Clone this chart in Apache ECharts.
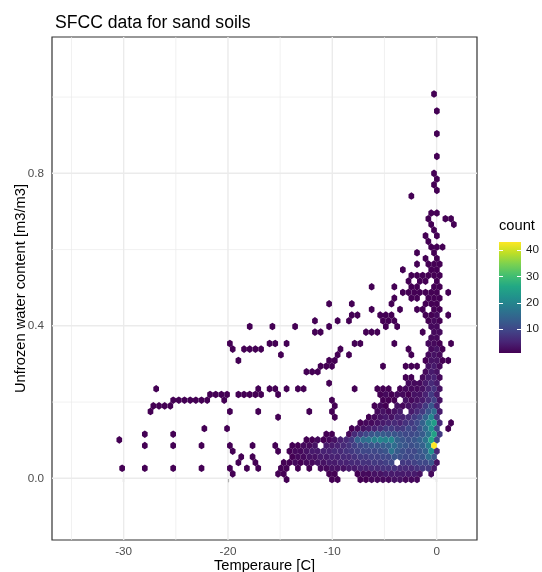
<!DOCTYPE html>
<html>
<head>
<meta charset="utf-8">
<script src="https://cdn.jsdelivr.net/npm/echarts@6/dist/echarts.min.js"></script>
<style>html,body{margin:0;padding:0;background:#fff}#chart{width:542px;height:572px}</style>
</head>
<body>
<div id="chart"></div>
<script>
// ---- data (hex-binned counts) ----
const binT = 0.5436;     // temperature distance between hex centres in a row [C]
const binW = 0.014872;   // water-content distance between hex rows [m3/m3]

const rowWater = [1.0080,0.9634,0.9039,0.8444,0.7998,0.7849,0.7700,0.7552,0.7403,0.6957,0.6808,0.6659,0.6511,0.6362,0.6213,0.6065,0.5916,0.5767,0.5618,0.5470,0.5321,0.5172,0.5024,0.4875,0.4726,0.4577,0.4429,0.4280,0.4131,0.3982,0.3834,0.3685,0.3536,0.3388,0.3239,0.3090,0.2941,0.2793,0.2644,0.2495,0.2347,0.2198,0.2049,0.1900,0.1752,0.1603,0.1454,0.1306,0.1157,0.1008,0.0859,0.0711,0.0562,0.0413,0.0264,0.0116,-0.0033];

const rowFirstTemp = [-0.249,0.023,0.023,0.023,-0.249,0.023,-0.249,0.023,-2.423,-0.521,-0.793,-0.521,-0.249,-1.064,-0.793,-0.521,-1.880,-1.064,-1.880,-3.239,-2.423,-2.695,-6.229,-3.239,-4.054,-10.306,-6.229,-8.131,-11.665,-17.916,-11.665,-0.521,-19.819,-19.547,-14.926,-19.003,-11.121,-12.480,-2.967,-10.306,-26.885,-21.721,-25.255,-27.157,-27.429,-15.198,-7.316,-22.265,-27.973,-30.419,-27.973,-19.547,-18.731,-19.003,-30.147,-19.547,-14.383];

const rowCounts = [
 [1],[1],[1],[1],[1],[1],[1],[1],[1],
 [1,1],
 [1,0,0,1,1],
 [1,0,0,0,1],
 [1],
 [1,0,1],
 [1],
 [1,1,1],
 [1,0,0,1],
 [1,0,1],
 [1,0,1,1,1],
 [1,0,0,0,0,1,1],
 [1,1,1,1,1,1],
 [1,0,1,1,0,1],
 [1,0,0,0,1,0,0,1,1,0,0,1,1],
 [1,1,1,1,1,1,1,0,1],
 [1,0,0,1,1,0,1,1,1],
 [1,0,0,0,1,0,0,0,0,0,0,1,0,0,0,0,0,1,1,1],
 [1,0,0,0,0,1,0,0,1,1,0,1,1],
 [1,1,0,0,0,1,1,1,0,0,0,0,0,1,1,2,0,1],
 [1,0,0,0,1,0,1,0,0,0,0,0,1,1,1,0,0,0,0,0,1,2,1],
 [1,0,0,0,1,0,0,0,1,0,0,0,0,0,1,0,0,0,0,0,0,0,0,0,1,0,1,0,0,0,0,0,2,2],
 [1,1,0,0,0,0,0,0,0,1,1,1,0,0,0,0,0,0,0,1,0,2,2],
 [2,2],
 [1,0,0,0,0,0,0,1,1,0,1,0,0,0,0,0,0,0,0,0,0,0,1,1,0,0,0,0,0,1,0,0,0,0,0,2,2,1,0,1],
 [1,0,1,1,1,1,0,0,0,0,0,0,0,0,0,0,0,0,0,1,0,0,0,0,0,0,0,0,0,0,0,1,0,0,0,2,3,1],
 [1,0,0,0,0,0,0,0,0,0,1,0,1,0,0,0,0,0,0,0,0,0,0,1,0,0,2,3,2],
 [1,0,0,0,0,0,0,0,0,0,0,0,0,0,0,0,1,1,0,0,0,0,0,0,0,0,0,0,0,0,0,0,0,1,3,3,1,1],
 [1,1,1,0,0,0,0,0,0,0,0,1,0,0,0,1,1,1,0,3,4,2],
 [1,1,1,0,0,0,0,0,0,0,0,0,0,0,0,0,0,0,0,0,0,2,4,3],
 [1,1,0,2,4,5,2],
 [1,0,0,0,0,0,0,0,0,0,0,0,0,0,2,2,2,4,6,4],
 [1,0,0,0,0,0,0,0,0,0, 0,0,0,0,0,0,0,0,1,0, 1,1,0,1,0,1,1,0,0,0, 0,0,0,0,0,1,0,0,0,1, 1,1,0,1,2,2,2,3,5,7,3],
 [1,1,1,1,0,1,1,1,1,1, 0,0,1,0,0,0,0,0,0,0, 0,0,0,0,0,0,0,0,0,0, 1,2,1,2,2,1,3,3,5,8,4],
 [1,1,1,1,1,1,1,0,0,1, 0,0,0,0,0,0,0,0,0,0, 0,0,0,0,0,0,0,0,1,0, 0,0,0,0,0,0,0,1,1,1, 0,3,2,3,4,6,9,3],
 [1,1,1,1,0,0,0,0,0,0, 0,0,0,0,0,0,0,0,0,0, 0,0,0,0,0,0,0,0,0,0, 0,0,1,0,0,0,0,0,0,1, 2,1,0,3,2,3,4,5,8,12,5],
 [1,0,0,0,0,0,0,0,0,0, 0,0,0,0,1,0,0,0,0,1, 0,0,0,0,0,0,0,0,1,0, 0,0,1,0,0,0,0,0,0,0, 2,3,2,3,4,0,4,6,8,12,16,4],
 [1,0,0,0,0,0,0,0,0,0, 1,0,0,0,0,0,1,2,3,4, 3,5,5,6,8,10,14,20,8],
 [1,2,2,3,4,5,6,5,7,8,10,14,20,24,6,0,1],
 [1,0,0,0,1,0,0,0,0,0, 0,0,0,0,0,0,0,0,0,0, 0,0,0,0,0,0, 1,2,3,4,5,6,8,8,7,8,10,9,12,16,22,10, 0,1],
 [1,0,0,0,0,1,0,0,0,0, 0,0,0,0,0,0,0,0,0,0, 0,0,0,0,0,0,0,0,0,0, 0,0,1,1,0,0, 2,6,8,10,12,13,13,12,12,11,10,10,11,13,17,25,8],
 [1, 0,0,0,0,0,0,0,0,0,0, 0,0,0,0,0,0,0,0,0,0, 0,0,0,0,0,0,0,0,0,0, 0,0, 1,1,2,1,2,3,5,6,8,14,16,17,19,20,19,20,14,12,11,12,14,17,26,10],
 [1,0,0,0,0,1,0,0,0,0, 1,0,0,0,0,1,0,0,0,1, 0,0,0,1,0,0, 1,1,2,2,3,0,4,4,5,6,7,9,10,11,12,12,13,14,16,13,12,11,12,14,19,43],
 [1,0,0,0,0,0,0,0,1,0, 1,2,2,3,4,4,5,5,6,6,7,8,9,10,10,10,11,12,17,13,11,10,10,12,14,22,6],
 [1,0,1,0,0,0,0,0,0, 1,2,2,3,3,4,4,5,5,6,6,7,8,8,9,9,10,10,12,11,10,10,11,12,16,12],
 [1,0,0,1,0,0,0,0, 1,1,2,1,2,2,3,3,4,4,5,5,6,6,7,7,8,8,9,10,0,8,8,9,10,10,12,3],
 [1,0,0,0,1,0,0,0,0,1, 0,0,0,0,1,0,0,0,0,1, 0,0,1,0,1,0,0,0,1,1, 0,1,0,1,0, 2,2,3,3,3,4,4,5,5,6,6,7,7,7,6,6,6,7,8,8,4],
 [1,0,0,0,0,0,0,0,1,1, 0,0,0,0,0,0,0,1,1,0, 0,0, 1,2,2,3,3,4,4,4,4,4,4,3,0,2],
 [1,0,0,0,0,0,0,0,1,1, 0,0,0, 1,1,2,2,2,2,3,3,2,2,2]
];

// axes / breaks
const xMin = -36.87, xMax = 3.87;
const yMin = -0.1618, yMax = 1.1575;
const xBreaks = [-30, -20, -10, 0];
const xMinorBreaks = [-35, -25, -15, -5];
const yBreaks = [0.0, 0.4, 0.8];
const yMinorBreaks = [0.2, 0.6, 1.0];
const legendBreaks = [10, 20, 30, 40];

const viridis = ['#440154','#482475','#414487','#355f8d','#2a788e','#21918c','#22a884','#44bf70','#7ad151','#bddf26','#fde725'];
const FONT = '"Liberation Sans", Arial, Helvetica, sans-serif';

// build hex table
const hexData = [];
rowWater.forEach((w, i) => {
  rowCounts[i].forEach((c, k) => {
    if (c > 0) hexData.push([rowFirstTemp[i] + k * binT, w, c]);
  });
});
let countMin = Infinity, countMax = -Infinity;
hexData.forEach(d => { countMin = Math.min(countMin, d[2]); countMax = Math.max(countMax, d[2]); });

const gridData = [];
xBreaks.forEach(v => gridData.push([v, 0, 1]));
xMinorBreaks.forEach(v => gridData.push([v, 0, 0]));
yBreaks.forEach(v => gridData.push([v, 1, 1]));
yMinorBreaks.forEach(v => gridData.push([v, 1, 0]));

function renderGrid(params, api) {
  const v = api.value(0), horiz = api.value(1), major = api.value(2);
  const cs = params.coordSys;
  let shape;
  if (horiz) {
    const y = api.coord([xMin, v])[1];
    shape = {x1: cs.x, y1: y, x2: cs.x + cs.width, y2: y};
  } else {
    const x = api.coord([v, yMin])[0];
    shape = {x1: x, y1: cs.y, x2: x, y2: cs.y + cs.height};
  }
  return {type: 'line', shape: shape, style: {stroke: '#ebebeb', lineWidth: major ? 1.4 : 0.7}};
}

function renderHex(params, api) {
  const c = api.coord([api.value(0), api.value(1)]);
  const hw = api.size([binT, 0])[0] / 2;
  const dy = api.size([0, binW])[1] / 3;
  return {
    type: 'polygon',
    shape: {points: [
      [c[0] + hw, c[1] - dy], [c[0], c[1] - 2 * dy], [c[0] - hw, c[1] - dy],
      [c[0] - hw, c[1] + dy], [c[0], c[1] + 2 * dy], [c[0] + hw, c[1] + dy]
    ]},
    style: {fill: api.visual('color')}
  };
}

function renderLegendBar(params, api) {
  const p0 = api.coord([api.value(0), api.value(3)]);
  const p1 = api.coord([api.value(2), api.value(1)]);
  const stops = viridis.map((col, i) => ({offset: 1 - i / (viridis.length - 1), color: col})).reverse();
  return {
    type: 'rect',
    shape: {x: p0[0], y: p0[1], width: p1[0] - p0[0], height: p1[1] - p0[1]},
    style: {fill: new echarts.graphic.LinearGradient(0, 0, 0, 1, stops)}
  };
}

const chart = echarts.init(document.getElementById('chart'), null, {renderer: 'canvas'});
chart.setOption({
  backgroundColor: '#ffffff',
  animation: false,
  textStyle: {fontFamily: FONT},
  title: {
    text: 'SFCC data for sand soils', left: 50, top: 9,
    textStyle: {fontSize: 17.6, fontWeight: 'normal', color: '#000', fontFamily: FONT}
  },
  grid: [
    {left: 52, top: 37, width: 425, height: 503, show: true, borderColor: '#333333', borderWidth: 1.2,
     backgroundColor: 'transparent', outerBoundsMode: 'none', containLabel: false},
    {left: 499, top: 242, width: 22, height: 111, show: false, outerBoundsMode: 'none', containLabel: false}
  ],
  xAxis: [
    {
      gridIndex: 0, type: 'value', min: xMin, max: xMax,
      name: 'Temperaure [C]', nameLocation: 'middle', nameGap: 18, nameMoveOverlap: false,
      nameTextStyle: {fontSize: 14.7, color: '#000', fontFamily: FONT, verticalAlign: 'top'},
      axisLine: {show: false},
      axisTick: {show: true, length: 4, lineStyle: {color: '#333333', width: 1.1}, customValues: xBreaks},
      axisLabel: {customValues: xBreaks, color: '#4d4d4d', fontSize: 11.7, margin: 6, fontFamily: FONT},
      splitLine: {show: false}
    },
    {gridIndex: 1, type: 'value', min: 0, max: 1, show: false}
  ],
  yAxis: [
    {
      gridIndex: 0, type: 'value', min: yMin, max: yMax,
      name: 'Unfrozen water content [m3/m3]', nameLocation: 'middle', nameGap: 24, nameRotate: 90,
      nameMoveOverlap: false,
      nameTextStyle: {fontSize: 14.7, color: '#000', fontFamily: FONT},
      axisLine: {show: false},
      axisTick: {show: true, length: 4, lineStyle: {color: '#333333', width: 1.1}, customValues: yBreaks},
      axisLabel: {customValues: yBreaks, color: '#4d4d4d', fontSize: 11.7, margin: 8, fontFamily: FONT,
                  formatter: v => Number(v).toFixed(1)},
      splitLine: {show: false}
    },
    {
      gridIndex: 1, type: 'value', min: countMin, max: countMax, position: 'left', z: 10,
      name: 'count', nameLocation: 'end', nameGap: 9,
      nameTextStyle: {fontSize: 14.7, color: '#000', align: 'left', verticalAlign: 'bottom', fontFamily: FONT},
      axisLine: {show: false},
      axisTick: {show: true, inside: true, length: 4, lineStyle: {color: '#ffffff', width: 1}, customValues: legendBreaks},
      axisLabel: {show: false},
      splitLine: {show: false}
    },
    {
      gridIndex: 1, type: 'value', min: countMin, max: countMax, position: 'right', z: 10,
      axisLine: {show: false},
      axisTick: {show: true, inside: true, length: 4, lineStyle: {color: '#ffffff', width: 1}, customValues: legendBreaks},
      axisLabel: {customValues: legendBreaks, color: '#1a1a1a', fontSize: 11.7, margin: 5, fontFamily: FONT},
      splitLine: {show: false}
    }
  ],
  visualMap: {
    show: false, type: 'continuous', min: countMin, max: countMax, dimension: 2, seriesIndex: 1,
    inRange: {color: viridis}
  },
  series: [
    {type: 'custom', name: 'grid', xAxisIndex: 0, yAxisIndex: 0, data: gridData, renderItem: renderGrid,
     silent: true, z: 1, clip: true, encode: {x: -1, y: -1}},
    {type: 'custom', name: 'count', xAxisIndex: 0, yAxisIndex: 0, data: hexData, renderItem: renderHex,
     z: 2, clip: true, encode: {x: 0, y: 1}},
    {type: 'custom', name: 'legend', xAxisIndex: 1, yAxisIndex: 1, data: [[0, countMin, 1, countMax]],
     renderItem: renderLegendBar, z: 3, silent: true, encode: {x: -1, y: -1}}
  ]
});
</script>
</body>
</html>
